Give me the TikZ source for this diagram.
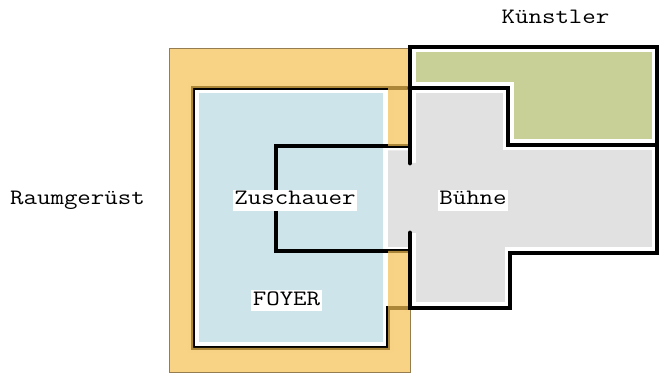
\documentclass[tikz,border=0pt]{standalone}
\usepackage{fontspec}
\usepackage{graphicx}
\definecolor{orngF}{RGB}{245,191,81}
\definecolor{orngLine}{RGB}{150,125,80}
\definecolor{blueF}{RGB}{205,228,234}
\definecolor{grayF}{RGB}{225,225,225}
\definecolor{greenF}{RGB}{200,208,151}
\begin{document}
\begin{tikzpicture}[x=1pt,y=-1pt,
  wall/.style={line width=4.8pt, line join=miter, black},
  room/.style={draw=white, line width=11pt, line join=miter},
  lab/.style={font=\ttfamily\fontsize{22}{22}\selectfont\addfontfeatures{FakeBold=1.2}, inner xsep=1.5pt, inner ysep=2.5pt, text height=12.5pt, text depth=3.5pt, anchor=base}]
\useasboundingbox (0,0) rectangle (659,379);
% rooms
\path[room, fill=blueF] (193,88) -- (388,88) -- (388,348) -- (193,348) -- cycle;
\path[room, fill=grayF] (410,88) -- (508,88) -- (508,145) -- (657,145) -- (657,253) -- (510,253) -- (510,308) -- (410,308) -- cycle;
\path[room, fill=greenF] (410,47) -- (657,47) -- (657,145) -- (508,145) -- (508,88) -- (410,88) -- cycle;
% walls
\draw[wall] (410,88) -- (193,88) -- (193,348) -- (388,348) -- (388,308) -- (410,308);
\draw[wall] (410,146) -- (276,146) -- (276,251) -- (410,251);
% Raumgeruest frame
\fill[orngF, fill opacity=0.7, even odd rule] (169.5,48.5) rectangle (410,372.5)
  (193,88) -- (388,88) -- (388,146) -- (410,146) -- (410,251) -- (388,251) -- (388,348) -- (193,348) -- cycle;
\draw[orngLine, line width=1pt] (410.5,308) -- (410.5,372.5) -- (169.5,372.5) -- (169.5,48.5) -- (410,48.5);
% stage opening
\fill[grayF] (388,150.5) -- (411,150.5) -- (411,163) -- (416,163) -- (416,233) -- (411,233) -- (411,247) -- (388,247) -- cycle;
\draw[wall, line cap=round] (410,163) -- (410,47) -- (657,47) -- (657,145) -- (508,145) -- (508,88) -- (410,88);
\draw[wall, line cap=round] (410,233) -- (410,308) -- (510,308) -- (510,253) -- (657,253) -- (657,145);
% labels
\node[lab] (raum) at (77.5,205) {\scalebox{1.19}[1]{Raumgerüst}};
\node[lab] (kuen) at (555.5,24) {\scalebox{1.19}[1]{Künstler}};
\node[lab, fill=white] (zus) at (295,205) {\scalebox{1.19}[1]{Zuschauer}};
\node[lab, fill=white] (buehne) at (473,205) {\scalebox{1.19}[1]{Bühne}};
\node[lab, fill=white] (foyer) at (286.5,305.5) {\scalebox{1.19}[1]{FOYER}};
\end{tikzpicture}
\end{document}
